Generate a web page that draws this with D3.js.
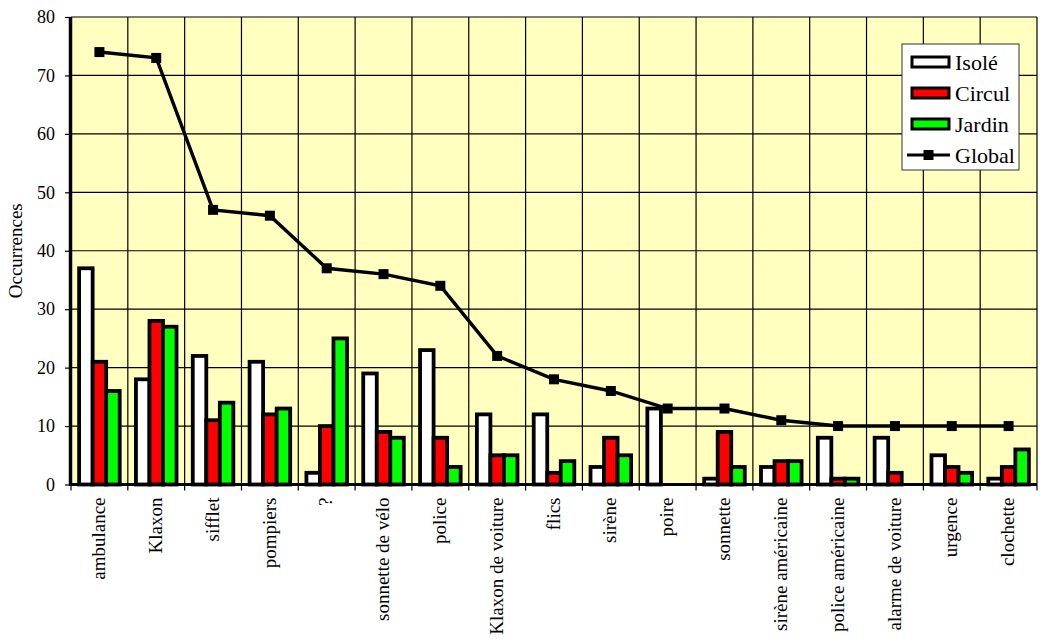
<!DOCTYPE html>
<html lang="fr">
<head>
    <meta charset="UTF-8">
    <script src="https://cdn.jsdelivr.net/npm/d3@7"></script>
    <style>
        body{ margin:0; background:#fff; }
        text{ font-family:"Liberation Serif","Times New Roman",serif; fill:#000; }
    </style>
    <title>Occurrences</title>
</head>
<body>
    <svg width="1040" height="639"></svg>
    <script>
        // data
        var categories = ["ambulance","Klaxon","sifflet","pompiers","?","sonnette de vélo","police",
            "Klaxon de voiture","flics","sirène","poire","sonnette","sirène américaine",
            "police américaine","alarme de voiture","urgence","clochette"];
        var isole  = [37,18,22,21, 2,19,23,12,12, 3,13, 1, 3, 8, 8, 5, 1];
        var circul = [21,28,11,12,10, 9, 8, 5, 2, 8, 0, 9, 4, 1, 2, 3, 3];
        var jardin = [16,27,14,13,25, 8, 3, 5, 4, 5, 0, 3, 4, 1, 0, 2, 6];
        var globalTotal = [74,73,47,46,37,36,34,22,18,16,13,13,11,10,10,10,10];
        var yTicks = [0,10,20,30,40,50,60,70,80];
        var seriesNames = ["Isolé","Circul","Jardin"];
        var seriesColors = ["#ffffff","#ff0000","#00ff00"];

        var svg = d3.select("svg");
        var pLeft = 71, pRight = 1037, pTop = 17, pBottom = 484.5; // plot area

        var x = d3.scaleBand().domain(categories).range([pLeft,pRight]);
        var xInner = d3.scaleBand().domain(seriesNames).range([0,x.bandwidth()])
            .paddingInner(0).paddingOuter(0.6);
        var y = d3.scaleLinear().domain([0,80]).range([pBottom,pTop]);

        // plot background
        svg.append("rect").attr("x",pLeft).attr("y",pTop)
            .attr("width",pRight-pLeft).attr("height",pBottom-pTop)
            .attr("fill","#ffffc0");

        // grid
        var grid = svg.append("g").attr("stroke","#000").attr("stroke-width",1.2);
        grid.selectAll(".hg").data(yTicks).enter().append("line")
            .attr("x1",pLeft).attr("x2",pRight)
            .attr("y1",function(d){return y(d)}).attr("y2",function(d){return y(d)});
        grid.selectAll(".vg").data(categories).enter().append("line")
            .attr("x1",function(d){return x(d)+x.bandwidth()}).attr("x2",function(d){return x(d)+x.bandwidth()})
            .attr("y1",pTop).attr("y2",pBottom);

        // bars
        var rows = [];
        categories.forEach(function(c,i){
            [isole,circul,jardin].forEach(function(arr,k){
                if(arr[i] > 0) rows.push({cat:c, s:seriesNames[k], v:arr[i], color:seriesColors[k]});
            });
        });
        svg.append("g").selectAll("rect").data(rows).enter().append("rect")
            .attr("x",function(d){return x(d.cat)+xInner(d.s)})
            .attr("y",function(d){return y(d.v)})
            .attr("width",xInner.bandwidth())
            .attr("height",function(d){return pBottom-y(d.v)})
            .attr("fill",function(d){return d.color})
            .attr("stroke","#000").attr("stroke-width",3.8);

        // Global line
        var line = d3.line()
            .x(function(d,i){return x(categories[i])+x.bandwidth()/2})
            .y(function(d){return y(d)});
        svg.append("path").datum(globalTotal).attr("d",line)
            .attr("fill","none").attr("stroke","#000").attr("stroke-width",3.4);
        svg.append("g").selectAll("rect").data(globalTotal).enter().append("rect")
            .attr("x",function(d,i){return x(categories[i])+x.bandwidth()/2-5})
            .attr("y",function(d){return y(d)-5})
            .attr("width",10).attr("height",10).attr("fill","#000");

        // y axis
        var yAxis = svg.append("g").attr("transform","translate("+pLeft+",0)")
            .call(d3.axisLeft(y).tickValues(yTicks).tickSize(6).tickPadding(10));
        yAxis.select(".domain").remove();
        yAxis.selectAll("text").attr("font-size","18px")
            .style("font-family","'Liberation Serif',serif");
        yAxis.selectAll("line").attr("stroke","#000").attr("stroke-width",1.2);
        svg.append("line").attr("x1",pLeft-0.5).attr("x2",pLeft-0.5)
            .attr("y1",pTop).attr("y2",pBottom+1.5)
            .attr("stroke","#000").attr("stroke-width",3.5);

        // x axis
        svg.append("line").attr("x1",pLeft-2).attr("x2",pRight)
            .attr("y1",pBottom).attr("y2",pBottom)
            .attr("stroke","#000").attr("stroke-width",3.2);
        svg.append("g").selectAll("line").data([categories[0]].concat(categories)).enter().append("line")
            .attr("x1",function(d,i){return i===0 ? pLeft : x(d)+x.bandwidth()})
            .attr("x2",function(d,i){return i===0 ? pLeft : x(d)+x.bandwidth()})
            .attr("y1",pBottom).attr("y2",pBottom+6)
            .attr("stroke","#000").attr("stroke-width",1.2);
        svg.append("g").selectAll("text").data(categories).enter().append("text")
            .attr("transform",function(d){return "translate("+(x(d)+x.bandwidth()/2-1)+","+(pBottom+13)+") rotate(-90)"})
            .attr("text-anchor","end")
            .attr("dy","0.35em")
            .attr("font-size","19px")
            .text(function(d){return d});

        svg.append("text")
            .attr("transform","translate(22,"+((pTop+pBottom)/2)+") rotate(-90)")
            .attr("text-anchor","middle")
            .attr("font-size","19px")
            .text("Occurrences");

        // legend
        var lg = svg.append("g").attr("transform","translate(902,44)");
        lg.append("rect").attr("width",117).attr("height",126)
            .attr("fill","#fff").attr("stroke","#333").attr("stroke-width",1);
        seriesNames.forEach(function(s,k){
            var cy = 18 + k*31;
            lg.append("rect").attr("x",10).attr("y",cy-5).attr("width",37).attr("height",10)
                .attr("fill",seriesColors[k]).attr("stroke","#000").attr("stroke-width",3);
            lg.append("text").attr("x",53).attr("y",cy).attr("dy","0.35em")
                .attr("font-size","22px").text(s);
        });
        var gy = 18 + 3*31;
        lg.append("line").attr("x1",5).attr("x2",48).attr("y1",gy).attr("y2",gy)
            .attr("stroke","#000").attr("stroke-width",3.2);
        lg.append("rect").attr("x",21.5).attr("y",gy-5).attr("width",10).attr("height",10).attr("fill","#000");
        lg.append("text").attr("x",53).attr("y",gy).attr("dy","0.35em")
            .attr("font-size","22px").text("Global");
    </script>
</body>
</html>
